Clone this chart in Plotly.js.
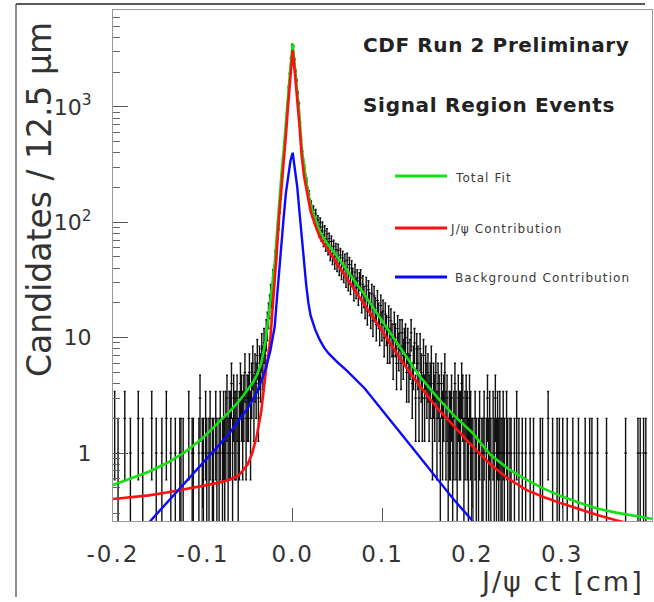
<!DOCTYPE html>
<html>
<head>
<meta charset="utf-8">
<script src="https://cdn.plot.ly/plotly-3.0.1.min.js"></script>
<style>
html,body{margin:0;padding:0;background:#fff;}
#chart{width:654px;height:602px;}
</style>
</head>
<body>
<div id="chart"></div>
<script>
// Histogram: J/psi ct, bins of 12.5 um (0.00125 cm) from -0.2 cm to 0.4 cm
const binLow = -0.2;
const binWidth = 0.00125;
const counts = [
  0,2,0,0,1,0,0,0,0,0,2,0,0,0,0,1,0,0,0,0,
  0,0,2,0,0,0,1,0,0,0,0,0,0,0,2,0,0,0,1,0,
  0,0,0,1,0,0,0,2,0,0,0,1,0,0,0,1,0,0,0,1,
  1,0,1,0,0,0,0,2,0,0,1,1,0,0,0,0,1,3,0,1,
  1,0,2,1,0,1,2,0,1,1,0,2,1,0,1,2,0,1,2,1,
  2,3,1,2,2,4,1,3,2,2,3,1,2,4,3,2,3,5,2,3,
  3,5,2,4,6,3,5,4,7,3,6,5,8,6,9,7,11,13,16,19,
  24,23,33,35,50,55,79,96,131,172,248,352,455,601,781,1062,1478,1941,2633,3431,
  3362,2571,2043,1693,1322,1071,736,519,412,331,296,244,226,187,174,146,141,122,127,109,
  118,96,104,84,99,77,91,70,84,64,79,60,72,54,68,50,62,46,58,44,
  57,41,52,38,49,36,46,33,47,31,43,29,40,34,26,37,27,33,24,31,
  33,21,29,23,19,28,17,26,20,16,24,14,23,18,13,21,16,12,19,13,
  17,10,16,12,9,15,9,14,10,7,13,10,6,12,8,11,6,11,7,9,
  10,5,9,5,7,11,4,6,9,3,8,6,3,8,5,3,7,3,6,4,
  5,3,4,6,2,4,3,5,2,4,3,1,4,2,3,5,2,3,1,2,
  2,3,1,2,4,2,1,3,2,2,4,3,1,2,3,2,1,3,2,1,
  1,0,2,1,0,1,2,0,1,1,2,0,1,3,1,2,1,0,2,1,
  3,1,2,1,2,1,1,2,1,0,2,1,0,1,1,0,0,1,0,2,
  0,1,0,0,1,0,0,1,0,0,0,1,0,0,1,0,0,0,0,0,
  1,0,1,0,0,0,0,2,0,0,0,1,0,0,0,1,0,1,0,0,
  1,0,0,0,1,0,0,0,0,1,0,0,0,0,1,0,0,0,0,0,
  1,0,0,0,1,0,1,0,0,0,0,1,0,0,0,0,0,0,0,1,
  0,0,0,0,0,0,0,0,0,0,0,0,0,0,0,0,1,0,0,0,
  0,0,0,0,0,0,0,1,0,1,0,0,1,0,1,0,0,0,0,0
];

// Fit curves
const fitX = [-0.2,-0.18,-0.16,-0.14,-0.12,-0.10,-0.08,-0.07,-0.06,-0.05,-0.045,-0.04,-0.035,-0.03,-0.025,-0.02,-0.0175,-0.015,-0.0125,-0.01,-0.0075,-0.005,-0.0025,0,0.0025,0.005,0.0075,0.01,0.0125,0.015,0.0175,0.02,0.025,0.03,0.035,0.04,0.05,0.06,0.08,0.10,0.12,0.14,0.16,0.18,0.20,0.22,0.24,0.26,0.28,0.30,0.32,0.34,0.36,0.38,0.40];
const totalFit = [0.53,0.60,0.69,0.82,1.02,1.35,1.9,2.3,2.8,3.5,4.0,4.7,6.0,9.5,20,44,80,150,260,420,760,1300,2200,3550,2300,1500,850,440,300,230,175,140,108,84,72,63,50,39,23.5,13.8,8.1,4.8,3.1,2.1,1.5,0.97,0.73,0.59,0.49,0.42,0.37,0.33,0.305,0.285,0.27];
const jpsiFit = [0.40,0.415,0.43,0.455,0.485,0.52,0.56,0.59,0.64,0.8,1.0,1.4,2.3,5.0,9.5,30,58,115,190,320,570,1050,1850,3100,1950,1250,700,380,255,200,155,125,95,75,64,57,43,33,19.5,11.3,6.5,3.95,2.5,1.68,1.15,0.80,0.60,0.48,0.415,0.365,0.325,0.29,0.262,0.24,0.225];
const bkgFit = [0.12,0.17,0.25,0.37,0.55,0.82,1.22,1.5,1.9,2.45,2.85,3.35,4.2,5.4,7.6,12.5,22,40,70,110,180,250,340,400,290,205,125,74,45,29,20,15.5,11.8,9.6,8.2,7.3,6.1,5.2,3.65,2.35,1.5,0.96,0.61,0.39,0.26,0.165,0.105,null,null,null,null,null,null,null,null];

const xTickVals = [-0.2,-0.1,0,0.1,0.2,0.3];
const xTickText = ['-0.2','-0.1','0.0','0.1','0.2','0.3'];
const yTickVals = [1,10,100,1000];
const yTickText = ['1','10','10<sup>2</sup>','10<sup>3</sup>'];
const legendLabels = ['Total Fit','J/\u03c8 Contribution','Background Contribution'];
const curveColors = ['#14e014','#ff1010','#0a0aff'];

// build histogram points (skip empty bins), Poisson errors
const hx = [], hy = [], he = [];
for (let i = 0; i < counts.length; i++) {
  if (counts[i] > 0) {
    hx.push(binLow + (i + 0.5) * binWidth);
    hy.push(counts[i]);
    he.push(Math.sqrt(counts[i]));
  }
}

// minor log ticks
const minorVals = [];
[0.1,1,10,100,1000].forEach(d => { for (let k = 2; k <= 9; k++) minorVals.push(k*d); });

const sp = (t, s) => '<span style="letter-spacing:' + s + 'px">' + t + '</span>';

const traces = [
  {x: hx, y: hy, type: 'scatter', mode: 'markers',
   marker: {symbol: 'line-ew-open', size: 2, color: '#000', line: {width: 1, color: '#000'}},
   error_y: {type: 'data', array: he, symmetric: true, thickness: 1.4, width: 1, color: '#111'},
   hoverinfo: 'skip'},
  {x: fitX, y: totalFit, type: 'scatter', mode: 'lines', line: {color: curveColors[0], width: 2.6}},
  {x: fitX, y: jpsiFit, type: 'scatter', mode: 'lines', line: {color: curveColors[1], width: 2.6}},
  {x: fitX, y: bkgFit, type: 'scatter', mode: 'lines', line: {color: curveColors[2], width: 2.4}, connectgaps: false}
];

const PX = px => (px - 113) / 539;
const PY = py => (521 - py) / 511;

const legendY = [176, 228, 277];
const legendTextX = [453, 448, 453];
const legendTextY = [178, 229, 278];

const shapes = [];
const annotations = [];
for (let i = 0; i < 3; i++) {
  shapes.push({type: 'line', xref: 'paper', yref: 'paper', x0: PX(395), x1: PX(447), y0: PY(legendY[i]), y1: PY(legendY[i]),
    line: {color: curveColors[i], width: 3}});
  annotations.push({xref: 'paper', yref: 'paper', x: PX(legendTextX[i]), y: PY(legendTextY[i]), xanchor: 'left', yanchor: 'middle',
    text: sp(legendLabels[i], 1.1), showarrow: false, font: {family: 'DejaVu Sans', size: 12, color: '#3a3a3a'}});
}
// outer frame
shapes.push({type: 'line', xref: 'paper', yref: 'paper', x0: PX(16), x1: PX(645), y0: PY(4), y1: PY(4), line: {color: '#222', width: 1.5}});
shapes.push({type: 'line', xref: 'paper', yref: 'paper', x0: PX(16), x1: PX(16), y0: PY(4), y1: PY(597), line: {color: '#444', width: 1.2}});

annotations.push({xref: 'paper', yref: 'paper', x: PX(496), y: PY(45), xanchor: 'center', yanchor: 'middle', showarrow: false,
  text: sp('CDF Run 2 Preliminary', 0.6), font: {family: 'DejaVu Sans', size: 20, color: '#222', weight: 'bold'}});
annotations.push({xref: 'paper', yref: 'paper', x: PX(489), y: PY(105), xanchor: 'center', yanchor: 'middle', showarrow: false,
  text: sp('Signal Region Events', 0.7), font: {family: 'DejaVu Sans', size: 20, color: '#222', weight: 'bold'}});
annotations.push({xref: 'paper', yref: 'paper', x: PX(39), y: PY(200), xanchor: 'center', yanchor: 'middle', showarrow: false,
  textangle: -90, text: 'Candidates / 12.5 \u03bcm', font: {family: 'DejaVu Sans', size: 33, color: '#333'}});
annotations.push({xref: 'paper', yref: 'paper', x: PX(646), y: PY(581), xanchor: 'right', yanchor: 'middle', showarrow: false,
  text: sp('J/\u03c8 ct [cm]', 2), font: {family: 'DejaVu Sans', size: 27, color: '#333'}});

const layout = {
  width: 654, height: 602,
  margin: {l: 113, r: 2, t: 10, b: 81},
  paper_bgcolor: '#fff', plot_bgcolor: '#fff',
  showlegend: false,
  xaxis: {
    type: 'linear', range: [-0.2, 0.4],
    tickmode: 'array', tickvals: xTickVals, ticktext: xTickText.map(t => sp(t, 2)),
    ticks: 'inside', ticklen: 13, tickwidth: 1, tickcolor: '#555',
    showline: true, mirror: true, linecolor: '#999', linewidth: 1,
    showgrid: false, zeroline: false,
    tickfont: {family: 'DejaVu Sans', size: 23, color: '#333'},
    ticklabelstandoff: 12
  },
  yaxis: {
    type: 'log', range: [Math.log10(0.258), Math.log10(6900)],
    tickmode: 'array', tickvals: yTickVals, ticktext: yTickText,
    ticks: 'inside', ticklen: 15, tickwidth: 1, tickcolor: '#555',
    minor: {tickmode: 'array', tickvals: minorVals, ticks: 'inside', ticklen: 7, tickwidth: 1, tickcolor: '#666'},
    showline: true, mirror: true, linecolor: '#999', linewidth: 1,
    showgrid: false, zeroline: false,
    tickfont: {family: 'DejaVu Sans', size: 22, color: '#333'},
    ticklabelstandoff: 16
  },
  shapes: shapes,
  annotations: annotations
};

Plotly.newPlot('chart', traces, layout, {staticPlot: true, displayModeBar: false});
</script>
</body>
</html>
